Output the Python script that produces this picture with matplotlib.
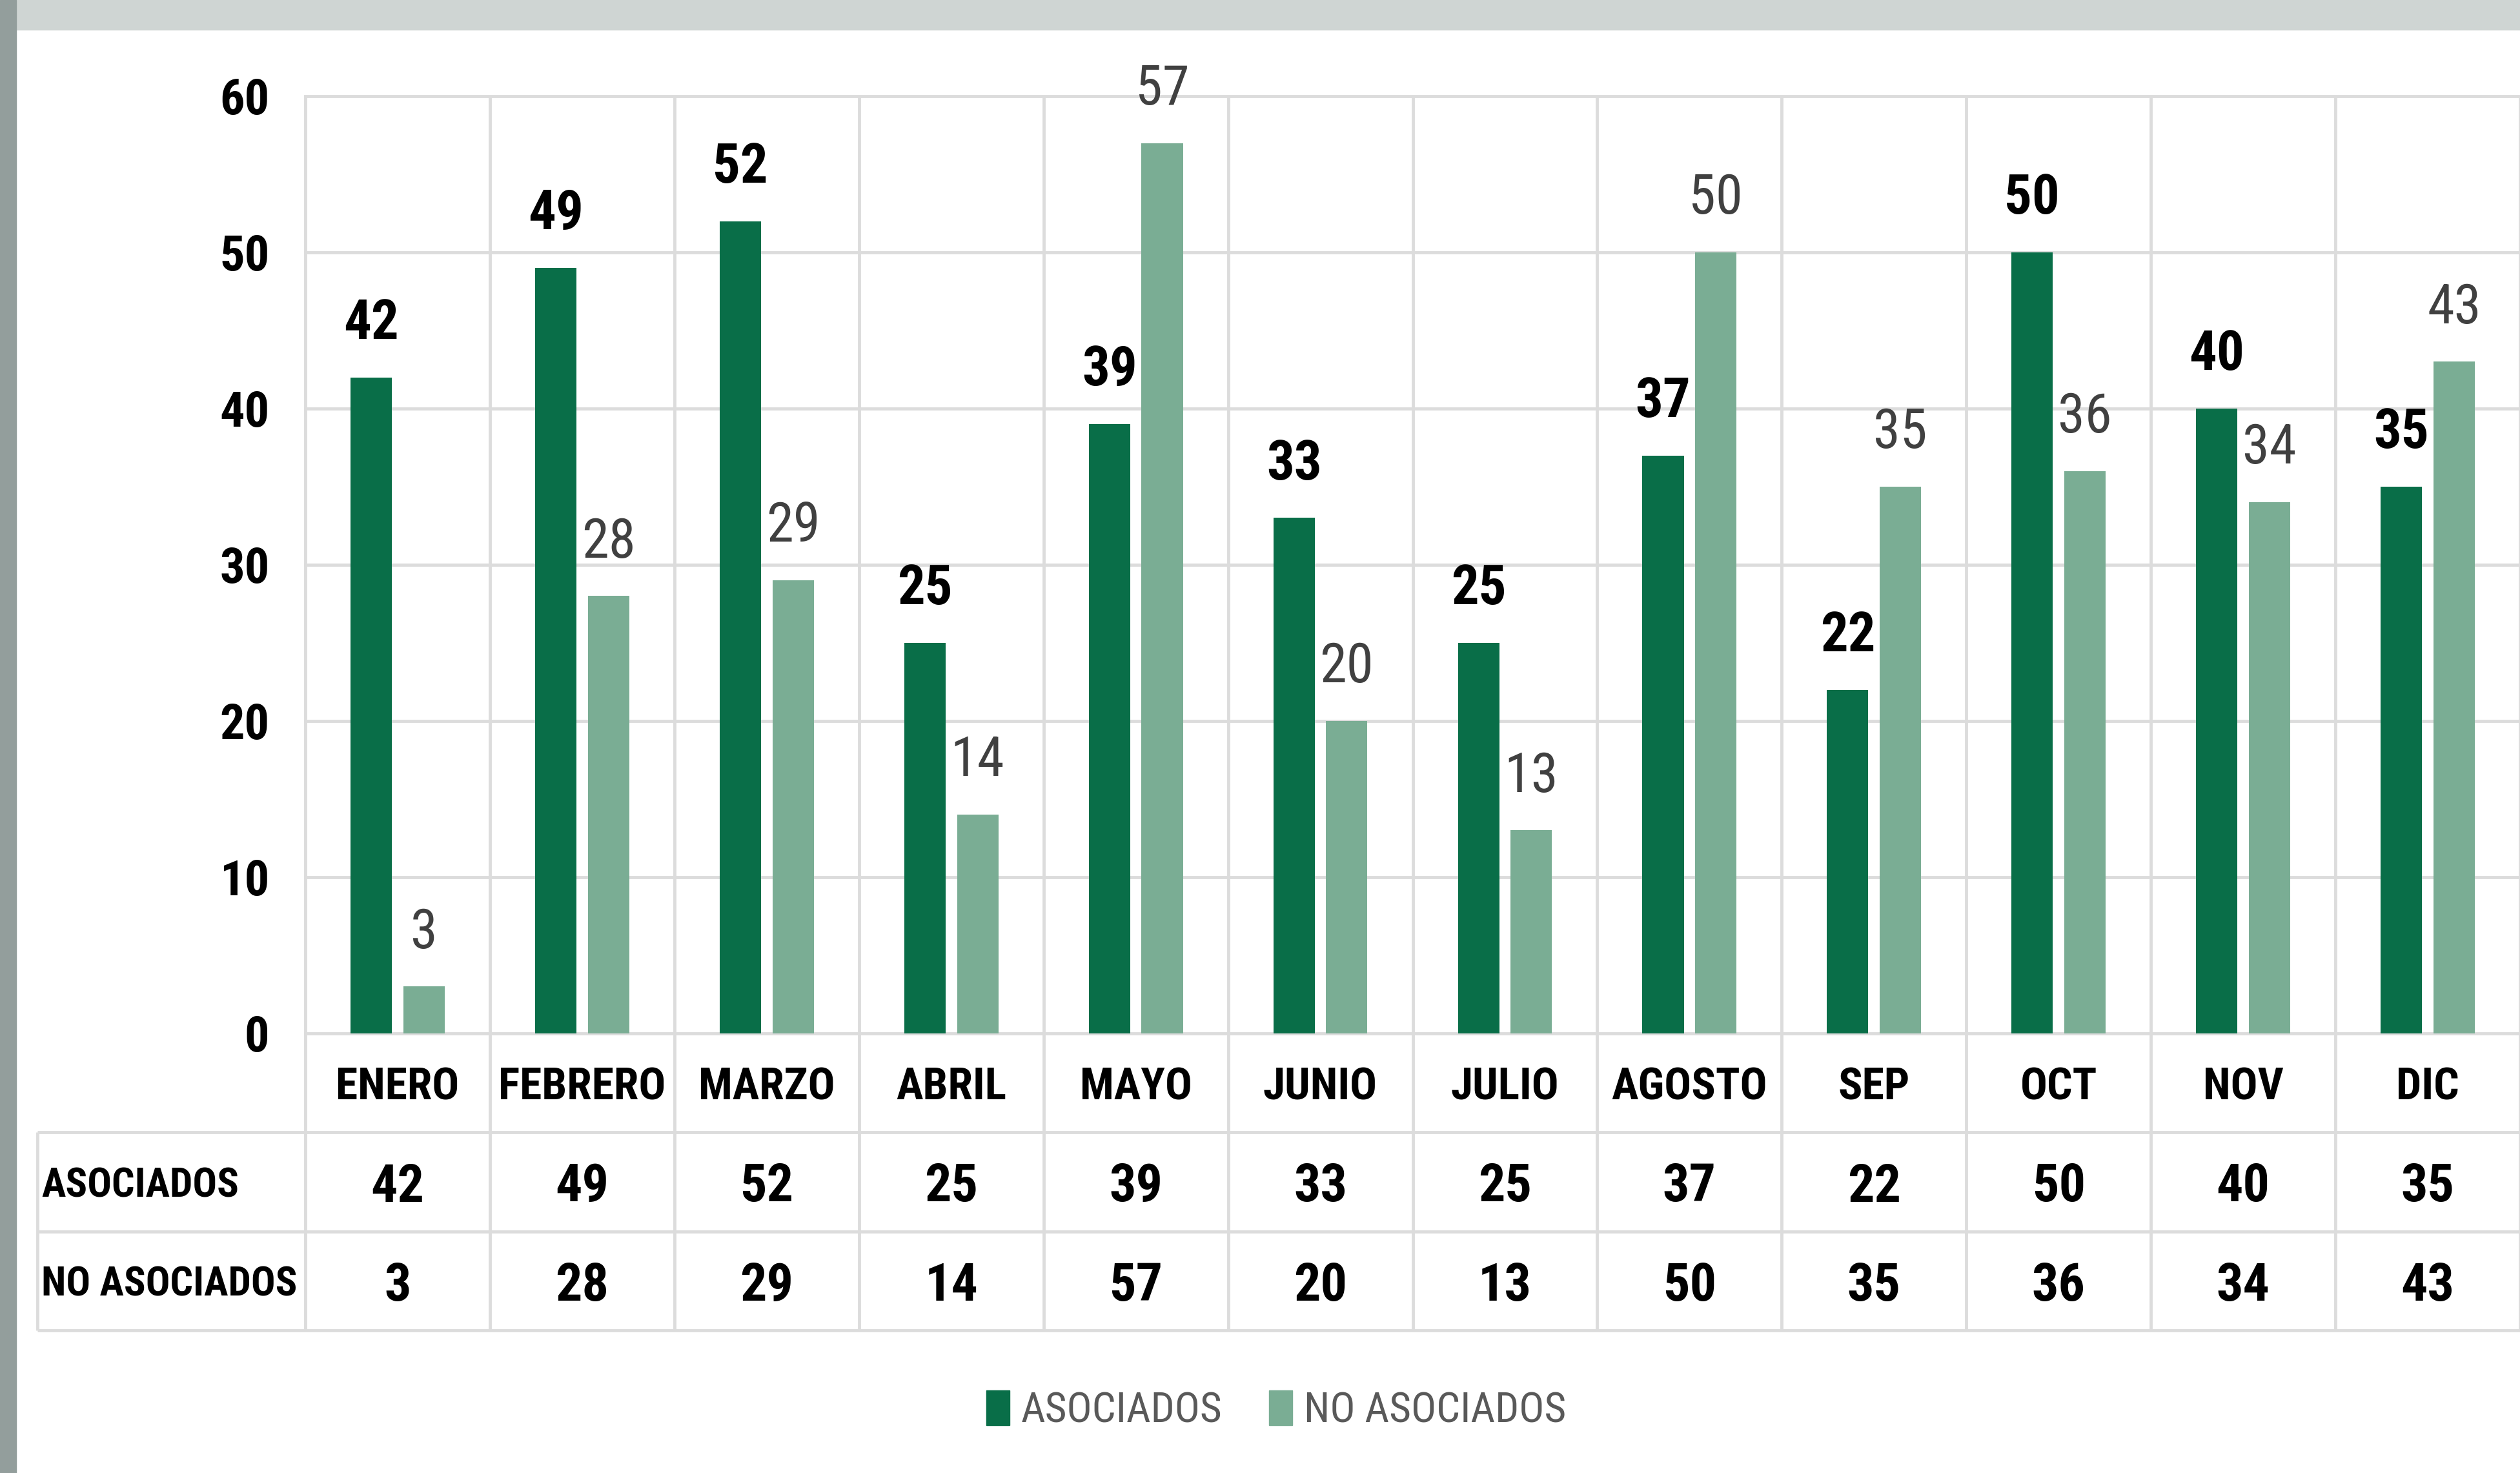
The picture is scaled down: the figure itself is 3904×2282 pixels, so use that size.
import matplotlib
matplotlib.use('Agg')
import matplotlib.pyplot as plt
from matplotlib import font_manager
from matplotlib.patches import Patch, Rectangle
import numpy as np

# datos del grafico
meses = ['ENERO', 'FEBRERO', 'MARZO', 'ABRIL', 'MAYO', 'JUNIO', 'JULIO',
         'AGOSTO', 'SEP', 'OCT', 'NOV', 'DIC']
asociados = [42, 49, 52, 25, 39, 33, 25, 37, 22, 50, 40, 35]
no_asociados = [3, 28, 29, 14, 57, 20, 13, 50, 35, 36, 34, 43]
series = ['ASOCIADOS', 'NO ASOCIADOS']
yticks = [0, 10, 20, 30, 40, 50, 60]

verde = '#096e48'
verde_claro = '#7aad94'
rejilla = '#dcdcdc'

# fuente angosta si hay alguna instalada
instaladas = {f.name for f in font_manager.fontManager.ttflist}
fuente = 'DejaVu Sans'
for nombre in ['Roboto Condensed', 'Liberation Sans Narrow', 'Open Sans Condensed',
               'Noto Sans Condensed', 'DejaVu Sans Condensed']:
    if nombre in instaladas:
        fuente = nombre
        break
plt.rcParams['font.family'] = [fuente, 'DejaVu Sans']

W, H = 3904, 2282
fig = plt.figure(figsize=(W / 100, H / 100), dpi=100)
fig.patch.set_facecolor('white')
# marco gris de la captura
fig.patches.append(Rectangle((0, 1 - 46 / H), 1, 46 / H, transform=fig.transFigure,
                             color='#cfd5d3', zorder=0))
fig.patches.append(Rectangle((0, 0), 25 / W, 1, transform=fig.transFigure,
                             color='#939e9c', zorder=0))

x0, x1 = 473, 3904
y_top, y_cero, y_tabla = 149, 1601, 2061
celda = (x1 - x0) / 12

ax = fig.add_axes([x0 / W, 1 - y_cero / H, (x1 - x0) / W, (y_cero - y_top) / H])
x = np.arange(len(meses))
ancho = 0.224
desp = 0.143
ax.bar(x - desp, asociados, ancho, color=verde, zorder=3)
ax.bar(x + desp, no_asociados, ancho, color=verde_claro, zorder=3)
ax.set_xlim(-0.5, 11.5)
ax.set_ylim(0, 60)
ax.set_yticks(yticks)
ax.set_yticklabels([str(t) for t in yticks], fontsize=55, fontweight='bold',
                   va='center_baseline')
ax.tick_params(axis='y', length=0, pad=40)
ax.set_xticks([])
ax.grid(axis='y', color=rejilla, lw=3.5, zorder=0)
for l in ax.get_ygridlines():
    l.set_clip_on(False)
ax.vlines(np.arange(-0.5, 12, 1), 0, 60, color=rejilla, lw=3.5, zorder=0, clip_on=False)
for s in ax.spines.values():
    s.set_visible(False)

# etiquetas de datos
for xi, v in zip(x, asociados):
    ax.annotate(str(v), (xi - desp, v), xytext=(0, 43), textcoords='offset points',
                ha='center', va='baseline', fontsize=61, fontweight='bold', color='black')
for xi, v in zip(x, no_asociados):
    ax.annotate(str(v), (xi + desp, v), xytext=(0, 43), textcoords='offset points',
                ha='center', va='baseline', fontsize=61, color='#404040')

# tabla de datos debajo
izq = 58
tb = fig.add_axes([izq / W, 1 - y_tabla / H, (x1 - izq) / W, (y_tabla - y_cero) / H])
xmin = -0.5 - (x0 - izq) / celda
tb.set_xlim(xmin, 11.5)
tb.set_ylim(3, 0)
tb.axis('off')
tb.hlines([1, 2, 3], xmin, 11.5, color=rejilla, lw=3.5, clip_on=False)
tb.vlines(np.arange(-0.5, 12, 1), 0, 3, color=rejilla, lw=3.5, clip_on=False)
tb.vlines([xmin], 1, 3, color=rejilla, lw=3.5, clip_on=False)

for xi, m in zip(x, meses):
    tb.text(xi, 0.5, m, ha='center', va='center_baseline', fontsize=50, fontweight='bold')
for fila, vals in zip([1.5, 2.5], [asociados, no_asociados]):
    for xi, v in zip(x, vals):
        tb.text(xi, fila, str(v), ha='center', va='center_baseline', fontsize=59,
                fontweight='bold')
for fila, nombre in zip([1.5, 2.5], series):
    tb.text(xmin + 6 / celda, fila, nombre, ha='left', va='center_baseline', fontsize=45,
            fontweight='bold')

handles = [Patch(color=verde), Patch(color=verde_claro)]
fig.legend(handles, series, loc='center', bbox_to_anchor=(1977 / W, 1 - 2185 / H),
           ncol=2, frameon=False, fontsize=47, handlelength=0.55, handleheight=0.9,
           handletextpad=0.28, columnspacing=1.1, labelcolor='#595959')

fig.savefig('out.png', dpi=100)
